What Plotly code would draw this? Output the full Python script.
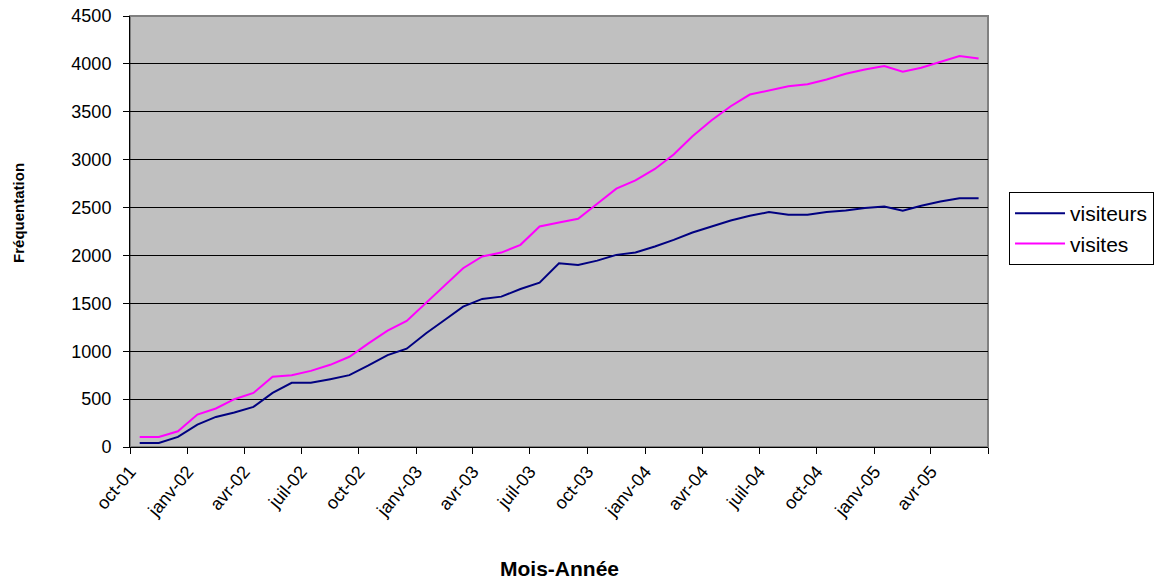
import pandas as pd
import plotly.graph_objects as go

# Monthly data, oct-01 .. jun-05
months = pd.date_range("2001-10-01", periods=45, freq="MS").strftime("%Y-%m-%d").tolist()

visiteurs = [42, 42, 105, 234, 314, 360, 419, 565, 670, 670, 708, 750, 852, 960, 1026,
             1187, 1326, 1465, 1546, 1570, 1650, 1716, 1919, 1901, 1946, 2006, 2030, 2093,
             2163, 2240, 2302, 2365, 2414, 2453, 2425, 2425, 2453, 2470, 2495, 2512, 2467,
             2519, 2564, 2596, 2596]
visites = [105, 105, 164, 339, 402, 499, 565, 733, 750, 795, 858, 942, 1082, 1214, 1317,
           1507, 1682, 1867, 1989, 2030, 2111, 2302, 2344, 2383, 2540, 2697, 2784, 2903,
           3053, 3244, 3412, 3558, 3680, 3722, 3767, 3788, 3837, 3897, 3942, 3977, 3918,
           3959, 4022, 4081, 4057]

tick_dates = pd.date_range("2001-10-01", "2005-07-01", freq="3MS").strftime("%Y-%m-%d").tolist()
tick_labels = ["oct-01", "janv-02", "avr-02", "juil-02", "oct-02", "janv-03", "avr-03",
               "juil-03", "oct-03", "janv-04", "avr-04", "juil-04", "oct-04", "janv-05",
               "avr-05", ""]

FONT = "Liberation Sans, Arial, sans-serif"

fig = go.Figure()
fig.add_trace(go.Scatter(x=months, y=visiteurs, name="visiteurs", mode="lines",
                         xperiod="M1", xperiodalignment="middle",
                         line=dict(color="#000080", width=2), legendgroup="a"))
fig.add_trace(go.Scatter(x=months, y=visites, name="visites", mode="lines",
                         xperiod="M1", xperiodalignment="middle",
                         line=dict(color="#FF00FF", width=2), legendgroup="b"))

fig.update_layout(
    width=1160, height=580,
    margin=dict(l=130, r=172, t=16, b=133, autoexpand=False),
    paper_bgcolor="white", plot_bgcolor="#C0C0C0",
    font=dict(family=FONT, size=13, color="black"),
    showlegend=True,
    legend=dict(x=1.0245, y=0.5916, xanchor="left", yanchor="top",
                bgcolor="white", bordercolor="black", borderwidth=1,
                font=dict(family=FONT, size=21), tracegroupgap=20,
                itemwidth=50, traceorder="normal"),
    shapes=[dict(type="rect", xref="paper", yref="paper", x0=0, y0=0, x1=1, y1=1,
                 line=dict(color="#808080", width=2), layer="below")],
    annotations=[
        dict(text="<b>Fréquentation</b>", xref="paper", yref="paper",
             x=-0.1294, y=0.543, xanchor="center", yanchor="middle",
             textangle=-90, showarrow=False, font=dict(family=FONT, size=15)),
        dict(text="<b>Mois-Année</b>", xref="paper", yref="paper",
             x=0.5, y=-0.283, xanchor="center", yanchor="middle",
             showarrow=False, font=dict(family=FONT, size=21)),
    ],
)

fig.update_xaxes(
    type="date", range=[tick_dates[0], tick_dates[-1]],
    tickmode="array", tickvals=tick_dates, ticktext=tick_labels,
    tickangle=-50, ticks="outside", ticklen=6, tickcolor="black",
    showline=True, linecolor="black", linewidth=1,
    showgrid=False, zeroline=False, ticklabelstandoff=0,
    tickfont=dict(family=FONT, size=18),
)
fig.update_yaxes(
    range=[0, 4500], tickmode="linear", tick0=0, dtick=500,
    ticks="outside", ticklen=6, tickcolor="black",
    showline=True, linecolor="black", linewidth=1,
    showgrid=True, gridcolor="black", gridwidth=1, zeroline=False,
    ticklabelstandoff=8, ticklabeloverflow="allow",
    tickfont=dict(family=FONT, size=18),
)

fig.write_html("out.html", config={"displayModeBar": False},
               post_script="document.body.style.margin='0';")
